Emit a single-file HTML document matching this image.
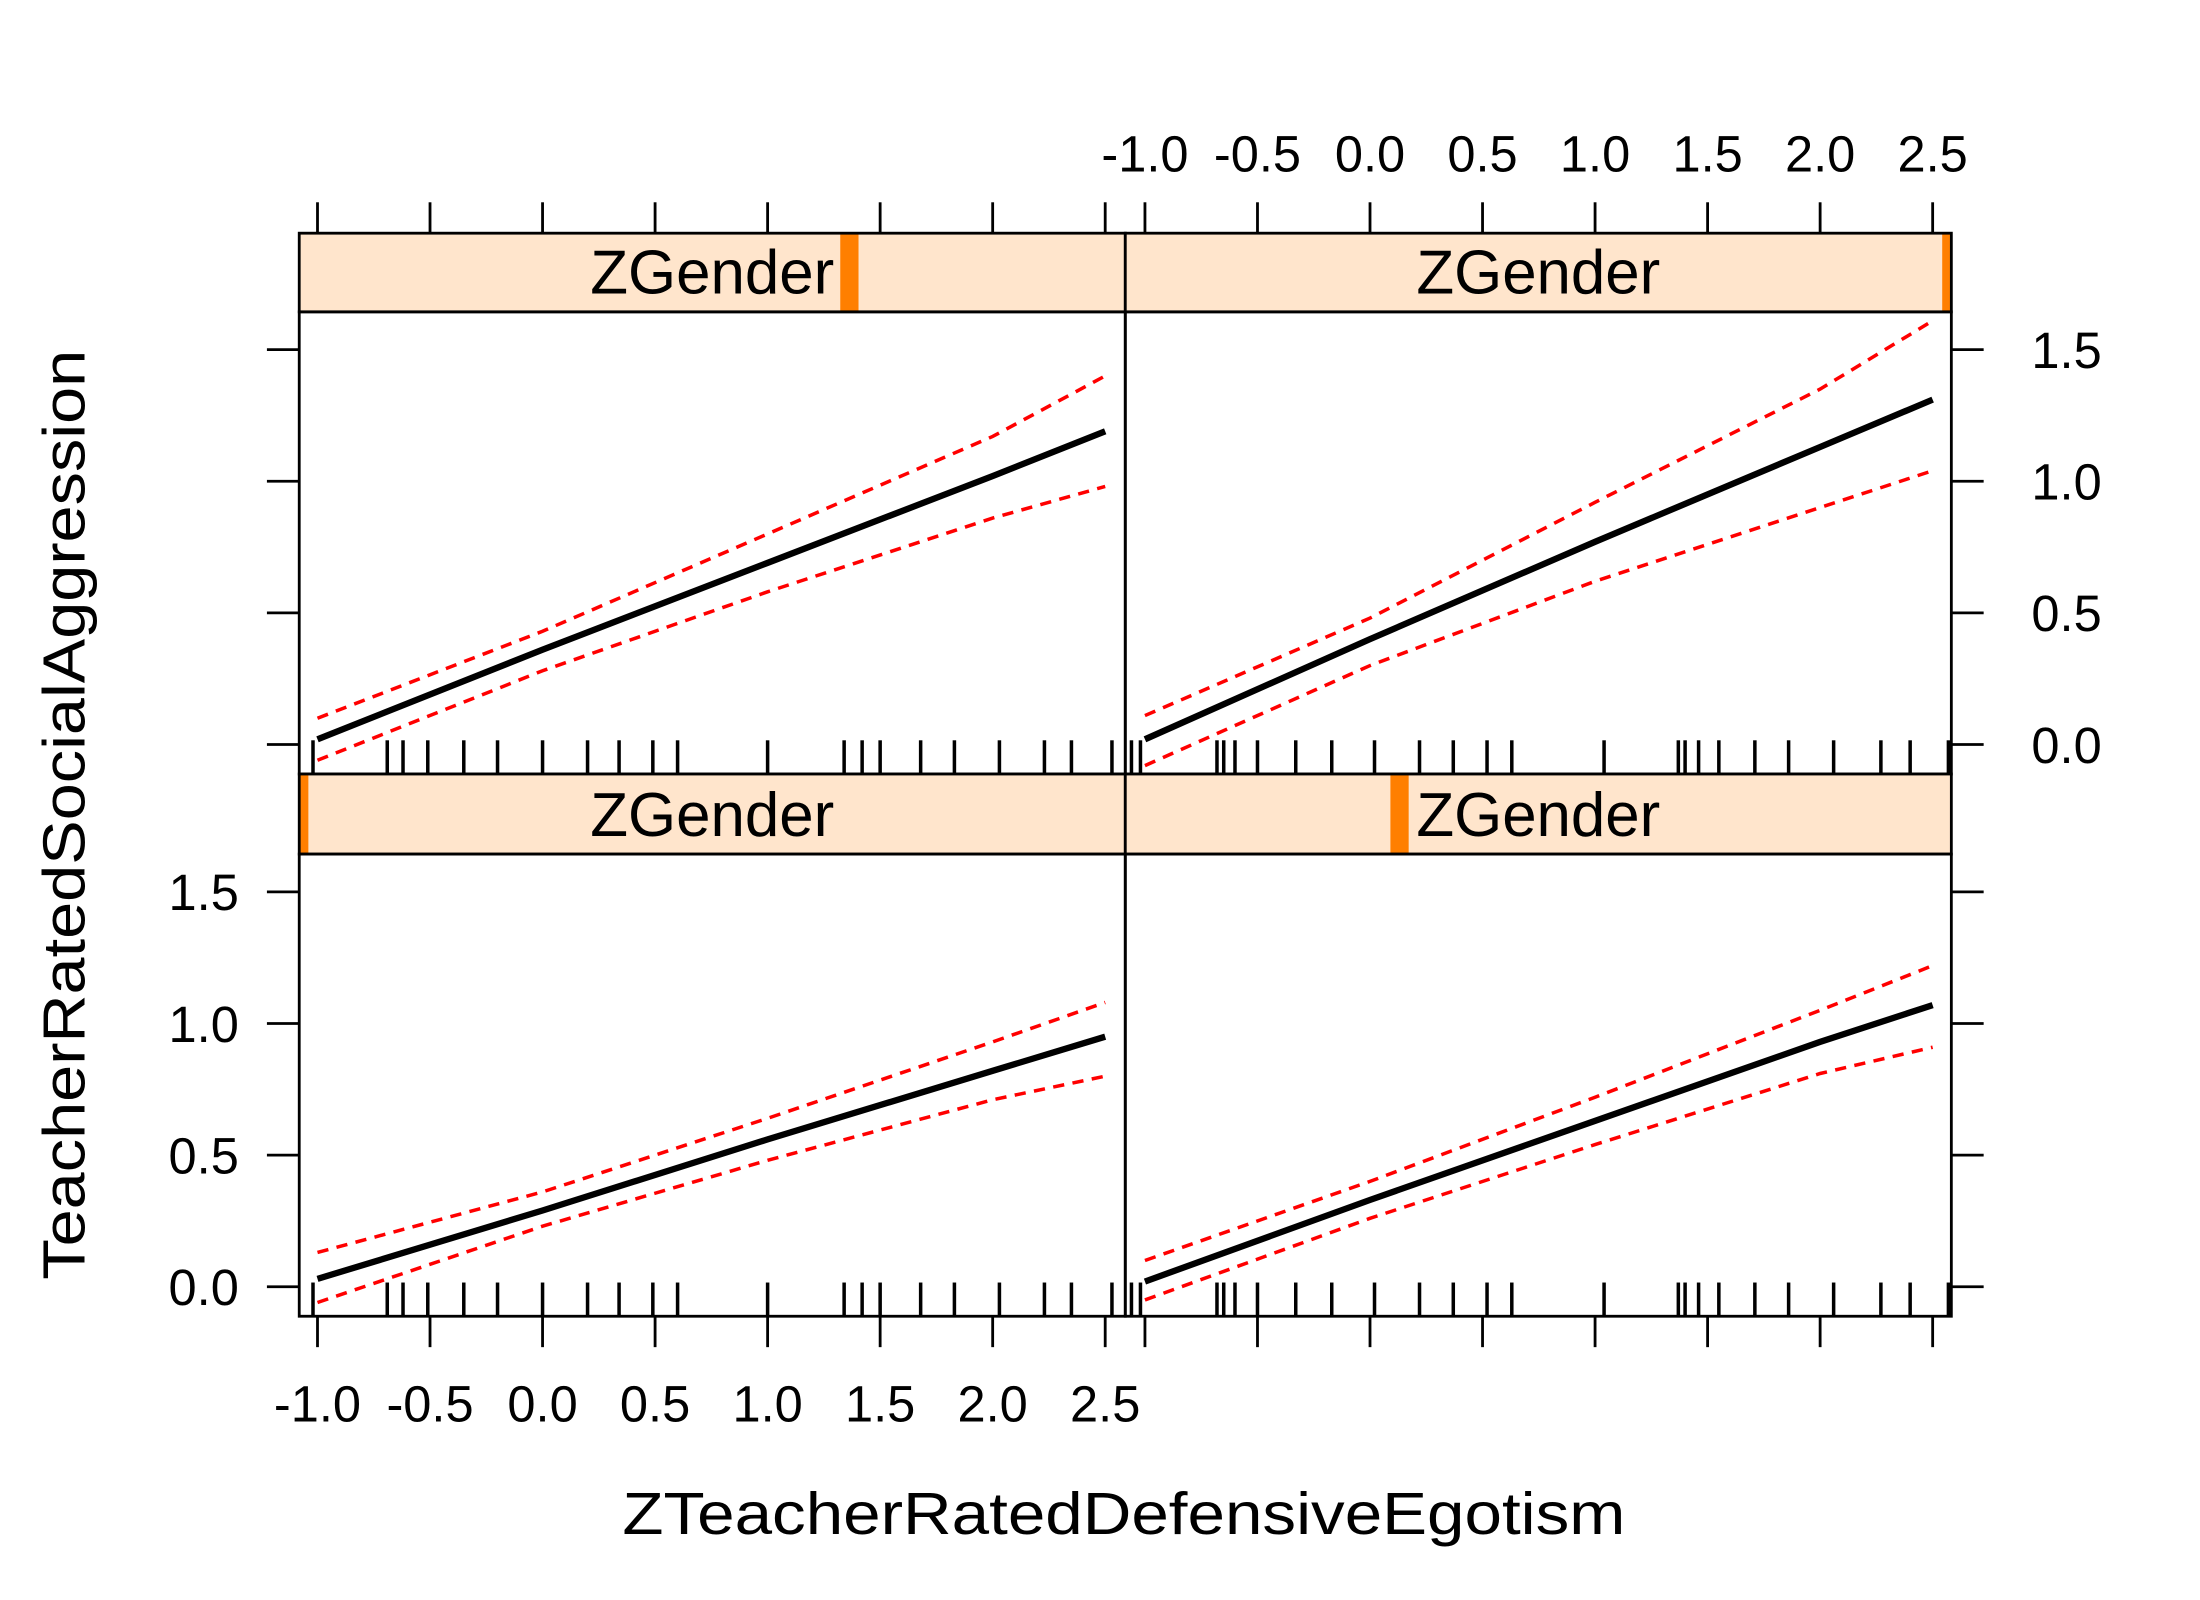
<!DOCTYPE html>
<html><head><meta charset="utf-8"><style>
html,body{margin:0;padding:0;background:#fff}
svg{display:block}
text{font-family:"Liberation Sans",sans-serif;fill:#000}
</style></head><body>
<svg id="chart" width="2200" height="1600" viewBox="0 0 1566 1139" preserveAspectRatio="none" xmlns="http://www.w3.org/2000/svg">
<g id="root"></g>
</svg>
<script>
// ---- data ----
const xGrid = [-1.0, 0.0, 1.0, 2.0, 2.5];
const fitTL = [0.02, 0.36, 0.69, 1.02, 1.19];
const upTL  = [0.10, 0.43, 0.80, 1.17, 1.40];
const loTL  = [-0.06, 0.28, 0.58, 0.86, 0.98];
const fitTR = [0.02, 0.40, 0.77, 1.13, 1.31];
const upTR  = [0.11, 0.48, 0.92, 1.35, 1.61];
const loTR  = [-0.08, 0.30, 0.62, 0.90, 1.04];
const fitBL = [0.03, 0.29, 0.56, 0.82, 0.95];
const upBL  = [0.13, 0.36, 0.64, 0.93, 1.08];
const loBL  = [-0.06, 0.23, 0.48, 0.71, 0.80];
const fitBR = [0.02, 0.33, 0.63, 0.93, 1.07];
const upBR  = [0.10, 0.40, 0.72, 1.05, 1.22];
const loBR  = [-0.05, 0.26, 0.54, 0.81, 0.91];
const rugLeft = [-1.02,-0.69,-0.62,-0.51,-0.35,-0.20,0.0,0.20,0.34,0.49,0.60,1.00,1.34,1.42,1.50,1.68,1.83,2.03,2.23,2.35,2.53];
const rugRight = [-1.06,-1.02,-0.68,-0.65,-0.60,-0.50,-0.33,-0.17,0.02,0.22,0.37,0.52,0.63,1.04,1.37,1.40,1.46,1.55,1.71,1.86,2.06,2.27,2.40,2.57];
const xTicks = [-1.0,-0.5,0.0,0.5,1.0,1.5,2.0,2.5];
const xTickLabels = ["-1.0","-0.5","0.0","0.5","1.0","1.5","2.0","2.5"];
const yTicks = [0.0,0.5,1.0,1.5];
const yTickLabels = ["0.0","0.5","1.0","1.5"];
const stripLevel = [0.666, 1.0, 0.0, 0.332]; // TL, TR, BL, BR ZGender indicator position

// ---- layout ----
const NS = "http://www.w3.org/2000/svg";
const root = document.getElementById('root');
const PL = 213, PM = 801, PR = 1389;
const T_STRIP = 166, T_TOP = 222, T_BOT = 551, B_STRIP = 551, B_TOP = 608, B_BOT = 937;
function mk(tag, attrs, parent){const e=document.createElementNS(NS,tag);for(const k in attrs)e.setAttribute(k,attrs[k]);(parent||root).appendChild(e);return e;}
function xScale(col){const x0 = col===0?226:815; return v => x0 + (v+1)*160.2;}
function yScale(row){const y0 = row===0?530:916; return v => y0 - v*187.4;}

const panels = [
  {row:0,col:0,fit:fitTL,up:upTL,lo:loTL,rug:rugLeft,name:'top-left'},
  {row:0,col:1,fit:fitTR,up:upTR,lo:loTR,rug:rugRight,name:'top-right'},
  {row:1,col:0,fit:fitBL,up:upBL,lo:loBL,rug:rugLeft,name:'bottom-left'},
  {row:1,col:1,fit:fitBR,up:upBR,lo:loBR,rug:rugRight,name:'bottom-right'}
];

panels.forEach((p,i)=>{
  const xl = p.col===0?PL:PM, xr = p.col===0?PM:PR;
  const st = p.row===0?T_STRIP:B_STRIP, pt = p.row===0?T_TOP:B_TOP, pb = p.row===0?T_BOT:B_BOT;
  const xs = xScale(p.col), ys = yScale(p.row);
  const g = mk('g',{});
  
  
  const s = mk('rect',{x:xl,y:st,width:xr-xl,height:pt-st,fill:'#FFE5CC',stroke:'none'},g);
  
  
  const w = 13, cx = xl + stripLevel[i]*(xr-xl);
  const ix0 = Math.max(xl, cx - w/2), ix1 = Math.min(xr, cx + w/2);
  const ind = mk('rect',{x:ix0,y:st,width:ix1-ix0,height:pt-st,fill:'#FF7F00'},g);
  
  
  const stx = mk('text',{x:(xl+xr)/2,y:pt-13,'text-anchor':'middle','font-size':44},g);
  stx.textContent='ZGender';
  
  
  mk('rect',{x:xl,y:st,width:xr-xl,height:pt-st,fill:'none',stroke:'#000','stroke-width':2},g);
  p.rug.forEach(v=>{
    const r = mk('line',{x1:xs(v),x2:xs(v),y1:pb,y2:pb-24,stroke:'#000','stroke-width':2.5},g);
    
    
  });
  const path = arr => arr.map((v,k)=>(k?'L':'M')+xs(xGrid[k]).toFixed(1)+','+ys(v).toFixed(1)).join(' ');
  const up = mk('path',{d:path(p.up),fill:'none',stroke:'#FF0000','stroke-width':2.5,'stroke-dasharray':'8,6'},g);
  
  
  const lo = mk('path',{d:path(p.lo),fill:'none',stroke:'#FF0000','stroke-width':2.5,'stroke-dasharray':'8,6'},g);
  
  
  const ft = mk('path',{d:path(p.fit),fill:'none',stroke:'#000','stroke-width':4.5,'stroke-linejoin':'round'},g);
  
  
  mk('rect',{x:xl,y:pt,width:xr-xl,height:pb-pt,fill:'none',stroke:'#000','stroke-width':2},g);
  if(p.row===0){
    xTicks.forEach((v,k)=>{
      mk('line',{x1:xs(v),x2:xs(v),y1:T_STRIP,y2:T_STRIP-22,stroke:'#000','stroke-width':2},g);
      if(p.col===1){
        const t = mk('text',{x:xs(v),y:122,'text-anchor':'middle','font-size':36},g);
        t.textContent = xTickLabels[k];
        
        
      }
    });
  } else {
    xTicks.forEach((v,k)=>{
      mk('line',{x1:xs(v),x2:xs(v),y1:B_BOT,y2:B_BOT+22,stroke:'#000','stroke-width':2},g);
      if(p.col===0){
        const t = mk('text',{x:xs(v),y:1012,'text-anchor':'middle','font-size':36},g);
        t.textContent = xTickLabels[k];
        
        
      }
    });
  }
  yTicks.forEach((v,k)=>{
    if(p.col===0){
      mk('line',{x1:PL,x2:PL-23,y1:ys(v),y2:ys(v),stroke:'#000','stroke-width':2},g);
      if(p.row===1){
        const t = mk('text',{x:170,y:ys(v)+13,'text-anchor':'end','font-size':36},g);
        t.textContent = yTickLabels[k];
        
        
      }
    } else {
      mk('line',{x1:PR,x2:PR+23,y1:ys(v),y2:ys(v),stroke:'#000','stroke-width':2},g);
      if(p.row===0){
        const t = mk('text',{x:1446,y:ys(v)+13,'text-anchor':'start','font-size':36},g);
        t.textContent = yTickLabels[k];
        
        
      }
    }
  });
});

const xt = mk('text',{x:800,y:1092,'text-anchor':'middle','font-size':42,textLength:714,lengthAdjust:'spacingAndGlyphs'});
xt.textContent = 'ZTeacherRatedDefensiveEgotism';


const yt = mk('text',{x:0,y:0,'text-anchor':'middle','font-size':42,textLength:662,lengthAdjust:'spacingAndGlyphs',transform:'translate(60,580) rotate(-90)'});
yt.textContent = 'TeacherRatedSocialAggression';


</script>
</body></html>
